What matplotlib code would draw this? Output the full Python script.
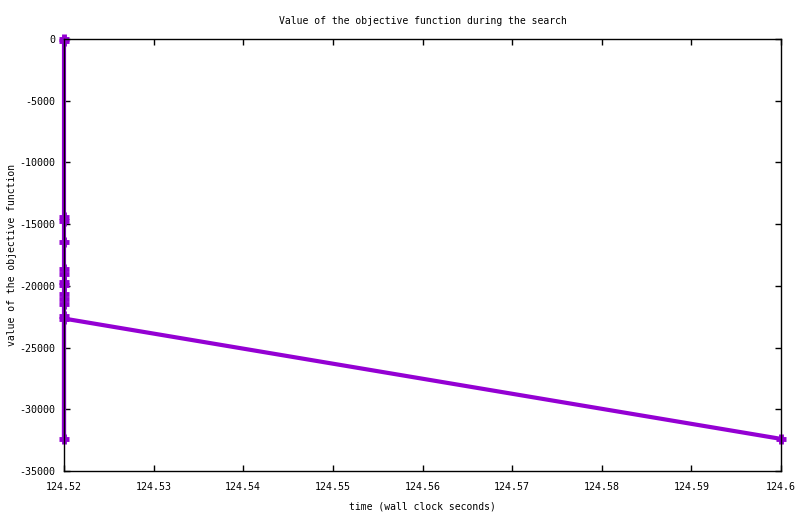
import matplotlib
matplotlib.use("Agg")
import matplotlib.pyplot as plt
from matplotlib.ticker import FuncFormatter

# wall clock time and objective value, in the order they were logged
times = [124.52, 124.52, 124.52, 124.52, 124.52, 124.52, 124.52, 124.52,
         124.52, 124.52, 124.52, 124.52, 124.52, 124.52, 124.52, 124.6]
values = [0, -200, -14460, -14740, -16420, -18670, -19080, -19720,
          -19970, -20700, -21060, -21470, -32400, -22480, -22650, -32400]

xticks = [124.52, 124.53, 124.54, 124.55, 124.56, 124.57, 124.58, 124.59, 124.6]
yticks = [0, -5000, -10000, -15000, -20000, -25000, -30000, -35000]

plt.rcParams['font.family'] = ['DejaVu Sans Mono']
plt.rcParams['font.size'] = 7

fig = plt.figure(figsize=(8, 5.14), dpi=100)
ax = fig.add_axes([0.08, 0.0837, 0.89625, 0.8404])

ax.plot(times, values, color="#9400d3", lw=3, marker="+", ms=7.5, mew=3.5,
        clip_on=False, zorder=2)

ax.set_xlim(124.52, 124.6)
ax.set_ylim(-35000, 0)
ax.set_xticks(xticks)
ax.set_yticks(yticks)
ax.xaxis.set_major_formatter(FuncFormatter(lambda v, p: "%g" % round(v, 4)))
ax.yaxis.set_major_formatter(FuncFormatter(lambda v, p: "%g" % v))
ax.tick_params(direction="in", length=4.5, width=1, top=True, right=True,
               labelsize=7.2)
ax.tick_params(axis="x", pad=8)
ax.tick_params(axis="y", pad=6)
for s in ax.spines.values():
    s.set_linewidth(1)
    s.set_zorder(3)

ax.set_title("Value of the objective function during the search", fontsize=7, pad=11)
ax.set_xlabel("time (wall clock seconds)", fontsize=7, labelpad=7)
ax.set_ylabel("value of the objective function", fontsize=7, labelpad=2)

fig.savefig("out.png", dpi=100)
